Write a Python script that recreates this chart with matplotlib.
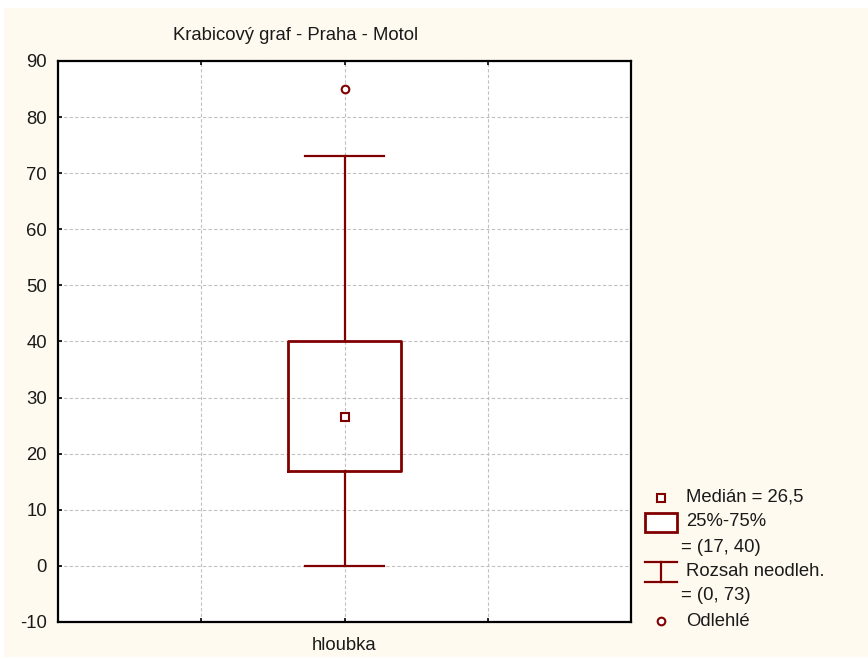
import matplotlib
matplotlib.use("Agg")
import matplotlib.pyplot as plt
from matplotlib.patches import Rectangle

# ---- data ----
categories = ["hloubka"]
positions = [2]
medians = [26.5]
q1 = [17]
q3 = [40]
whisker_lo = [0]
whisker_hi = [73]
outliers = [[85]]
yticks = list(range(-10, 100, 10))
title = "Krabicový graf - Praha - Motol"
legend_texts = ["Medián = 26,5", "25%-75%", "= (17, 40)", "Rozsah neodleh.", "= (0, 73)", "Odlehlé"]

RED = "#800000"
CREAM = "#FFFAF0"
W, H = 868, 659
plt.rcParams['font.family'] = ['Liberation Sans', 'DejaVu Sans']
plt.rcParams['axes.unicode_minus'] = False
FS = 13.3
TXT = "#1a1a1a"

fig = plt.figure(figsize=(W / 100, H / 100), dpi=100)
fig.patch.set_facecolor("white")

# overlay in pixel coordinates for background + legend
ov = fig.add_axes([0, 0, 1, 1], zorder=-1)
ov.set_xlim(0, W)
ov.set_ylim(H, 0)
ov.axis("off")
ov.add_patch(Rectangle((4, 8), W - 4, 649, facecolor=CREAM, edgecolor="none"))

def px(x0, y0, x1, y1):
    return [x0 / W, 1 - y1 / H, (x1 - x0) / W, (y1 - y0) / H]

ax = fig.add_axes(px(58, 61, 631, 622))
ax.set_facecolor("white")

stats = []
for i, c in enumerate(categories):
    stats.append(dict(label=c, med=medians[i], q1=q1[i], q3=q3[i],
                      whislo=whisker_lo[i], whishi=whisker_hi[i], fliers=outliers[i]))
ax.bxp(stats, positions=positions, widths=0.79, capwidths=0.55, showfliers=True,
       boxprops=dict(color=RED, linewidth=2.0),
       whiskerprops=dict(color=RED, linewidth=1.6),
       capprops=dict(color=RED, linewidth=1.6),
       medianprops=dict(linestyle="none"),
       flierprops=dict(marker="o", markerfacecolor="white", markeredgecolor=RED,
                       markersize=5.5, markeredgewidth=1.5),
       zorder=3)
ax.plot(positions, medians, linestyle="none", marker="s", markerfacecolor="white",
        markeredgecolor=RED, markersize=5.5, markeredgewidth=1.5, zorder=4)

ax.set_xlim(0, 4)
ax.set_ylim(-10, 90)
ax.set_yticks(yticks)
ax.set_xticks([1, 2, 3])
ax.set_xticklabels(["", categories[0], ""])
ax.grid(True, color="#c0c0c0", linestyle=(0, (3, 2)), linewidth=0.8, zorder=0)
ax.set_axisbelow(True)
ax.tick_params(axis="both", direction="in", length=3, width=1.2, labelsize=FS,
               top=True, right=False, colors="black", labelcolor=TXT)
ax.tick_params(axis="y", pad=8)
ax.tick_params(axis="x", pad=11)
for s in ax.spines.values():
    s.set_linewidth(1.6)
    s.set_color("black")

fig.text(296 / W, 1 - 35 / H, title, ha="center", va="center", fontsize=FS, color=TXT)

# ---- legend (pixel coords) ----
ov2 = fig.add_axes([0, 0, 1, 1], zorder=5)
ov2.set_xlim(0, W)
ov2.set_ylim(H, 0)
ov2.axis("off")
ov2.plot([661], [498], linestyle="none", marker="s", markerfacecolor="white",
         markeredgecolor=RED, markersize=5.5, markeredgewidth=1.5)
ov2.add_patch(Rectangle((645, 513), 32, 19, facecolor="white", edgecolor=RED, linewidth=2.0))
ov2.plot([645, 677], [562, 562], color=RED, linewidth=1.6)
ov2.plot([645, 677], [582, 582], color=RED, linewidth=1.6)
ov2.plot([661, 661], [562, 582], color=RED, linewidth=1.6)
ov2.plot([661], [621], linestyle="none", marker="o", markerfacecolor="white",
         markeredgecolor=RED, markersize=5.5, markeredgewidth=1.5)
text_x = [686, 686, 681, 686, 681, 686]
text_y = [497, 522, 547, 572, 596, 621]
for t, x, y in zip(legend_texts, text_x, text_y):
    ov2.text(x, y, t, ha="left", va="center", fontsize=FS, color=TXT)

fig.savefig("out.png", dpi=100, facecolor=fig.get_facecolor())
